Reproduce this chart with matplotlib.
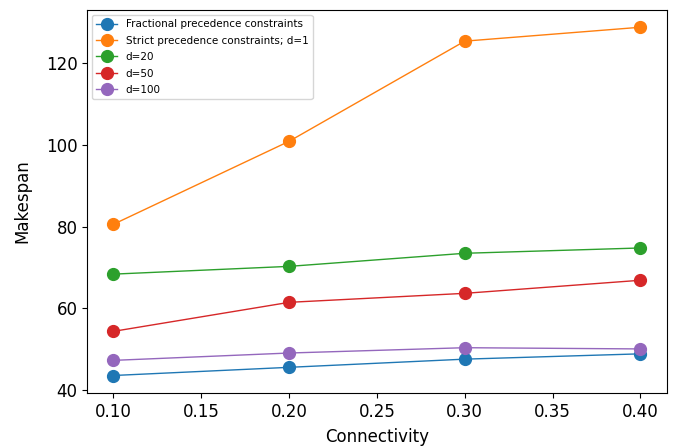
import matplotlib
matplotlib.use("Agg")
import matplotlib.pyplot as plt

connectivity = [0.1, 0.2, 0.3, 0.4]
fractional = [43.6, 45.6, 47.6, 48.9]
strict_d1 = [80.6, 100.9, 125.4, 128.8]
d20 = [68.4, 70.3, 73.5, 74.8]
d50 = [54.4, 61.5, 63.7, 66.9]
d100 = [47.3, 49.1, 50.4, 50.1]

series = [
    (fractional, "Fractional precedence constraints"),
    (strict_d1, "Strict precedence constraints; d=1"),
    (d20, "d=20"),
    (d50, "d=50"),
    (d100, "d=100"),
]

fig, ax = plt.subplots(figsize=(6.86, 4.47), dpi=100)
fig.subplots_adjust(left=0.127, right=0.972, top=0.978, bottom=0.121)

for values, label in series:
    ax.plot(connectivity, values, marker="o", markersize=8.5, linewidth=1, label=label)

ax.set_xlabel("Connectivity", fontsize=12, labelpad=5)
ax.set_ylabel("Makespan", fontsize=12, labelpad=10)
ax.tick_params(labelsize=12)
ax.set_xticks([0.10, 0.15, 0.20, 0.25, 0.30, 0.35, 0.40])
ax.set_yticks([40, 60, 80, 100, 120])
ax.legend(loc="upper left", fontsize=7.5, labelspacing=0.62)

fig.savefig("out.png")
